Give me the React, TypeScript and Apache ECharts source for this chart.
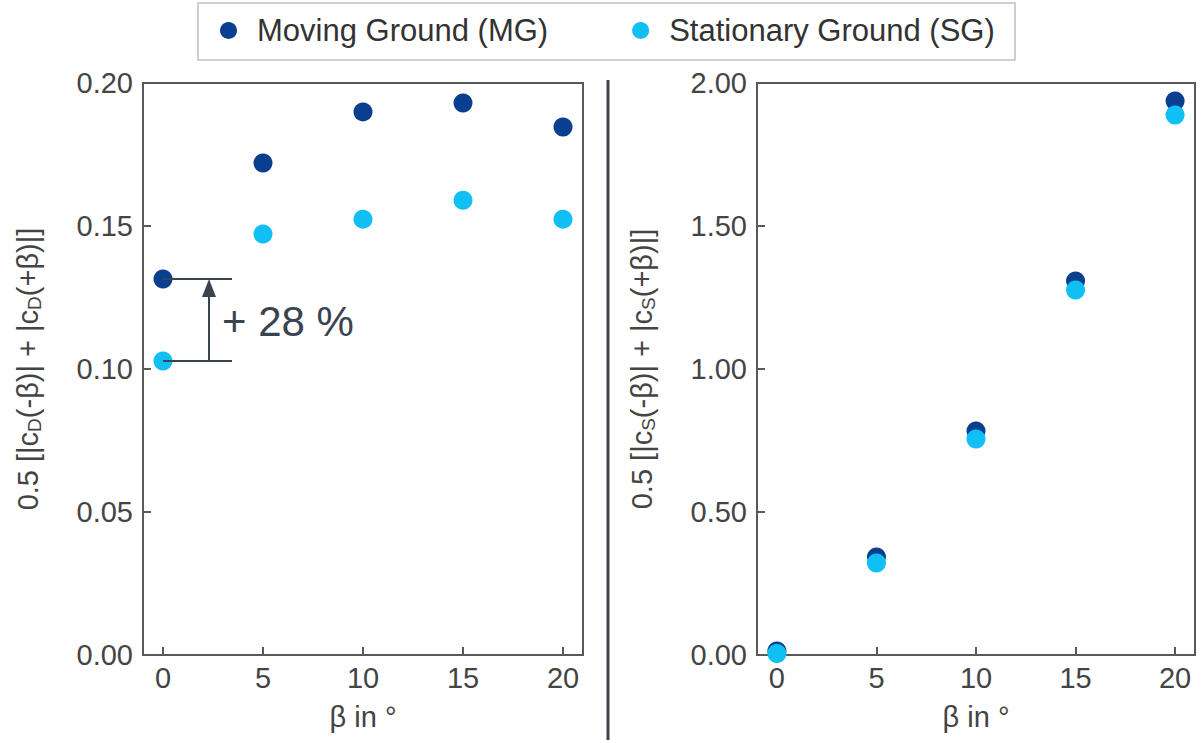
import React, { useEffect, useRef } from "react";
import * as echarts from "echarts";

const betaValues = [0, 5, 10, 15, 20];
const cdMG = [0.1315, 0.172, 0.1899, 0.193, 0.1846];
const cdSG = [0.1028, 0.1472, 0.1524, 0.159, 0.1524];
const csMG = [0.014, 0.343, 0.783, 1.308, 1.937];
const csSG = [0.005, 0.322, 0.755, 1.276, 1.888];
const seriesNames = ["Moving Ground (MG)", "Stationary Ground (SG)"];
const annotationText = "+ 28 %";

const MG_COLOR = "#0a3f8f";
const SG_COLOR = "#10bff3";
const FRAME = "#595959";
const DARK = "#3a4450";
const TEXT = "#444";
const FONT = "Liberation Sans";
const FS = 29;

export default function App() {
  const ref = useRef<HTMLDivElement>(null);
  useEffect(() => {
    const chart = echarts.init(ref.current!, null, { renderer: "svg" });
    const rich = {
      sub: { fontSize: 19, color: TEXT, fontFamily: FONT, verticalAlign: "bottom", padding: [14, 0, 0, 0] },
    };
    const xAxisCommon = (gi: number) => ({
      type: "value",
      gridIndex: gi,
      min: -1,
      max: 21,
      interval: 5,
      name: "β in °",
      nameLocation: "middle",
      nameGap: 47,
      nameTextStyle: { fontSize: FS, color: TEXT, fontFamily: FONT },
      axisLine: { show: true, onZero: false, lineStyle: { color: FRAME, width: 2 } },
      axisTick: { show: true, inside: true, length: 8, lineStyle: { color: FRAME, width: 2 }, customValues: betaValues },
      axisLabel: { fontSize: FS, color: TEXT, fontFamily: FONT, margin: 8, customValues: betaValues },
      splitLine: { show: false },
    });
    const yAxisCommon = (gi: number, max: number, interval: number, name: string, dec: number) => ({
      type: "value",
      gridIndex: gi,
      min: 0,
      max,
      interval,
      name,
      nameLocation: "middle",
      nameGap: 99,
      nameTextStyle: { fontSize: FS, color: TEXT, fontFamily: FONT, rich },
      axisLine: { show: true, onZero: false, lineStyle: { color: FRAME, width: 2 } },
      axisTick: { show: true, inside: true, length: 8, lineStyle: { color: FRAME, width: 2 } },
      axisLabel: {
        fontSize: FS,
        color: TEXT,
        fontFamily: FONT,
        margin: 10,
        formatter: (v: number) => v.toFixed(dec),
      },
      splitLine: { show: false },
    });
    const pair = (xs: number[], ys: number[]) => xs.map((x, i) => [x, ys[i]]);
    const scatter = (name: string, color: string, data: number[][], gi: number) => ({
      type: "scatter",
      name,
      xAxisIndex: gi,
      yAxisIndex: gi,
      data,
      symbolSize: 19,
      itemStyle: { color, opacity: 1 },
      z: name === seriesNames[0] ? 2 : 3,
    });

    chart.setOption({
      animation: false,
      backgroundColor: "#fff",
      textStyle: { fontFamily: FONT },
      legend: {
        data: seriesNames,
        left: 220,
        top: 15,
        padding: 0,
        itemGap: 84,
        itemWidth: 17,
        itemHeight: 17,
        icon: "circle",
        textStyle: { fontSize: 31, color: "#333", fontFamily: FONT, padding: [0, 0, 0, 15] },
      },
      grid: [
        { left: 143, top: 83, width: 440, height: 572, show: true, borderColor: FRAME, borderWidth: 2, backgroundColor: "transparent" },
        { left: 757, top: 83, width: 438, height: 572, show: true, borderColor: FRAME, borderWidth: 2, backgroundColor: "transparent" },
      ],
      xAxis: [xAxisCommon(0), xAxisCommon(1)],
      yAxis: [
        yAxisCommon(0, 0.2, 0.05, "0.5 [|c{sub|D}(-β)| + |c{sub|D}(+β)|]", 2),
        yAxisCommon(1, 2, 0.5, "0.5 [|c{sub|S}(-β)| + |c{sub|S}(+β)|]", 2),
      ],
      series: [
        scatter(seriesNames[0], MG_COLOR, pair(betaValues, cdMG), 0),
        scatter(seriesNames[1], SG_COLOR, pair(betaValues, cdSG), 0),
        scatter(seriesNames[0], MG_COLOR, pair(betaValues, csMG), 1),
        scatter(seriesNames[1], SG_COLOR, pair(betaValues, csSG), 1),
      ],
    });

    const p = (x: number, y: number) => chart.convertToPixel({ gridIndex: 0 }, [x, y]) as number[];
    const a0 = p(betaValues[0], cdMG[0]);
    const b0 = p(betaValues[0], cdSG[0]);
    const endX = p(3.45, 0)[0];
    const arrX = p(2.3, 0)[0];
    const lineStyle = { stroke: DARK, lineWidth: 2 };
    chart.setOption({
      graphic: [
        {
          type: "rect",
          shape: { x: 198, y: 3, width: 817, height: 57 },
          style: { fill: "none", stroke: "#cfcfcf", lineWidth: 2 },
          z: 0,
        },
        { type: "line", shape: { x1: a0[0], y1: a0[1], x2: endX, y2: a0[1] }, style: lineStyle, z: 10 },
        { type: "line", shape: { x1: b0[0], y1: b0[1], x2: endX, y2: b0[1] }, style: lineStyle, z: 10 },
        { type: "line", shape: { x1: arrX, y1: b0[1], x2: arrX, y2: a0[1] + 16 }, style: lineStyle, z: 10 },
        {
          type: "polygon",
          shape: { points: [[arrX, a0[1]], [arrX - 7, a0[1] + 18], [arrX + 7, a0[1] + 18]] },
          style: { fill: DARK },
          z: 10,
        },
        {
          type: "text",
          x: arrX + 13,
          y: (a0[1] + b0[1]) / 2 + 2,
          style: { text: annotationText, fontSize: 42, fill: DARK, fontFamily: FONT, verticalAlign: "middle", align: "left" },
          z: 10,
        },
        {
          type: "line",
          shape: { x1: 608, y1: 80, x2: 608, y2: 740 },
          style: { stroke: DARK, lineWidth: 3 },
          z: 10,
        },
      ],
    });
    return () => chart.dispose();
  }, []);
  return <div ref={ref} style={{ position: "fixed", left: 0, top: 0, width: 1198, height: 740 }} />;
}
